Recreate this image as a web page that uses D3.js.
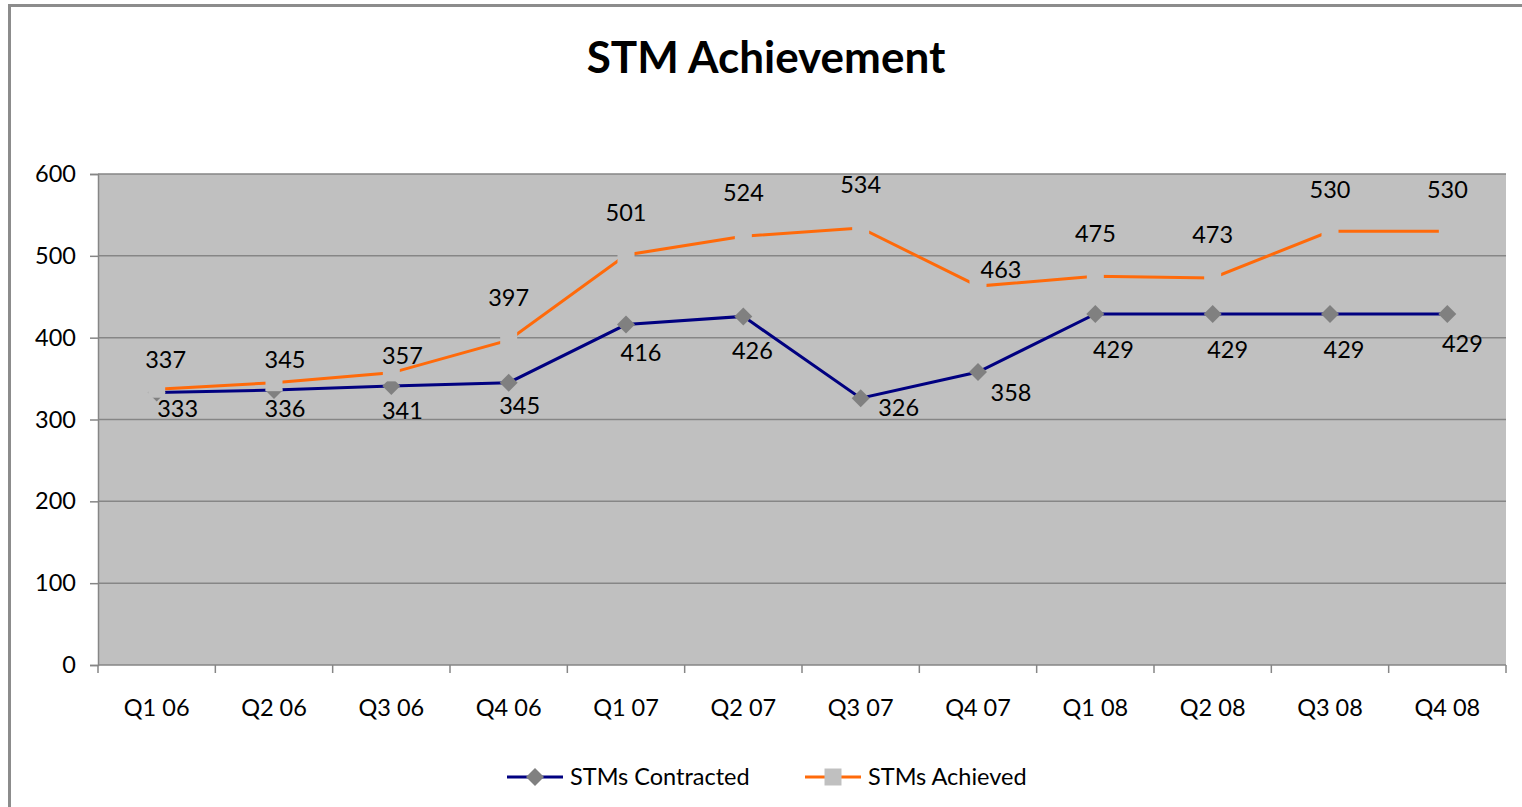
<!DOCTYPE html>
<html>
<head>
<meta charset="utf-8">
<script src="https://cdn.jsdelivr.net/npm/d3@7"></script>
<style>
  body { margin: 0; background: #fff; }
  svg text { font-family: Lato, "Open Sans", sans-serif; fill: #000; }
</style>
</head>
<body>
<div id="chart"></div>
<script>
// data
const quarters = ["Q1 06", "Q2 06", "Q3 06", "Q4 06", "Q1 07", "Q2 07",
                  "Q3 07", "Q4 07", "Q1 08", "Q2 08", "Q3 08", "Q4 08"];
const contracted = [333, 336, 341, 345, 416, 426, 326, 358, 429, 429, 429, 429];
const achieved = [337, 345, 357, 397, 501, 524, 534, 463, 475, 473, 530, 530];
const yTicks = [0, 100, 200, 300, 400, 500, 600];

// label nudges (px) as placed in the original
const contractedNudge = [[21, 16], [11, 19], [11, 25], [11, 23], [15, 28], [9, 34],
                         [38, 10], [33, 21], [18, 36], [15, 36], [14, 36], [15, 30]];
const achievedNudge = [[9, -29], [11, -23], [11, -17], [0, -42], [0, -42], [0, -43],
                       [0, -43], [23, -16], [0, -43], [0, -43], [0, -42], [0, -42]];

const W = 1522, H = 807;
const margin = { top: 174, right: 16, bottom: 142, left: 98 };
const width = W - margin.left - margin.right;
const height = H - margin.top - margin.bottom;
const fs = 23.5;

const svg = d3.select("#chart").append("svg")
  .attr("width", W).attr("height", H);

// outer chart frame
svg.append("rect")
  .attr("x", 9.5).attr("y", 5.5)
  .attr("width", W + 20).attr("height", H + 20)
  .attr("fill", "#fff")
  .attr("stroke", "#8c8c8c")
  .attr("stroke-width", 3);

svg.append("text")
  .attr("x", 766).attr("y", 73)
  .attr("text-anchor", "middle")
  .attr("font-size", 44)
  .attr("font-weight", "bold")
  .text("STM Achievement");

const g = svg.append("g")
  .attr("transform", "translate(" + margin.left + "," + margin.top + ")");

const x = d3.scaleBand().domain(quarters).range([0, width]);
const y = d3.scaleLinear().domain([0, 600]).range([height, 0]);

g.append("rect")
  .attr("width", width).attr("height", height)
  .attr("fill", "#c0c0c0");

// gridlines
g.selectAll(".grid").data(yTicks.filter(d => d > 0)).enter()
  .append("line")
  .attr("x1", 0).attr("x2", width)
  .attr("y1", d => y(d)).attr("y2", d => y(d))
  .attr("stroke", "#868686").attr("stroke-width", 1.5);

// y axis
const yAxis = g.append("g")
  .call(d3.axisLeft(y).tickValues(yTicks).tickSize(8).tickPadding(14));
yAxis.selectAll("text").attr("font-size", fs);
yAxis.selectAll("line, path").attr("stroke", "#868686").attr("stroke-width", 1.5);

// x axis with ticks at category boundaries
const xAxis = g.append("g").attr("transform", "translate(0," + height + ")");
xAxis.append("line")
  .attr("x1", 0).attr("x2", width)
  .attr("stroke", "#868686").attr("stroke-width", 1.5);
xAxis.selectAll(".bound").data(d3.range(quarters.length + 1)).enter()
  .append("line")
  .attr("x1", i => i * x.bandwidth()).attr("x2", i => i * x.bandwidth())
  .attr("y1", 0).attr("y2", 8)
  .attr("stroke", "#868686").attr("stroke-width", 1.5);
xAxis.selectAll(".lab").data(quarters).enter()
  .append("text")
  .attr("x", d => x(d) + x.bandwidth() / 2)
  .attr("y", 51)
  .attr("text-anchor", "middle")
  .attr("font-size", fs)
  .text(d => d);

const cx = i => x(quarters[i]) + x.bandwidth() / 2;
const line = d3.line().x((d, i) => cx(i)).y(d => y(d));

function drawSeries(values, color, marker) {
  g.append("path")
    .datum(values)
    .attr("d", line)
    .attr("fill", "none")
    .attr("stroke", color)
    .attr("stroke-width", 3);
  g.selectAll(null).data(values).enter()
    .append("path")
    .attr("transform", (d, i) => "translate(" + cx(i) + "," + y(d) + ")")
    .attr("d", marker.path)
    .attr("fill", marker.fill);
}

const diamond = { path: "M0,-9L9,0L0,9L-9,0Z", fill: "#808080" };
const square = { path: "M-8.5,-8.5H8.5V8.5H-8.5Z", fill: "#c0c0c0" };

drawSeries(contracted, "#000080", diamond);
drawSeries(achieved, "#ff6a0a", square);

function drawLabels(values, nudge) {
  g.selectAll(null).data(values).enter()
    .append("text")
    .attr("x", (d, i) => cx(i) + nudge[i][0])
    .attr("y", (d, i) => y(d) + nudge[i][1])
    .attr("dy", "0.35em")
    .attr("text-anchor", "middle")
    .attr("font-size", fs)
    .text(d => d);
}
drawLabels(contracted, contractedNudge);
drawLabels(achieved, achievedNudge);

// legend
const legend = svg.append("g").attr("transform", "translate(0,777)");
const items = [
  { name: "STMs Contracted", color: "#000080", marker: diamond, x: 507 },
  { name: "STMs Achieved", color: "#ff6a0a", marker: square, x: 805 }
];
items.forEach(it => {
  legend.append("line")
    .attr("x1", it.x).attr("x2", it.x + 56)
    .attr("stroke", it.color).attr("stroke-width", 3);
  legend.append("path")
    .attr("transform", "translate(" + (it.x + 28) + ",0)")
    .attr("d", it.marker.path)
    .attr("fill", it.marker.fill);
  legend.append("text")
    .attr("x", it.x + 63).attr("dy", "0.35em")
    .attr("font-size", fs)
    .text(it.name);
});
</script>
</body>
</html>
